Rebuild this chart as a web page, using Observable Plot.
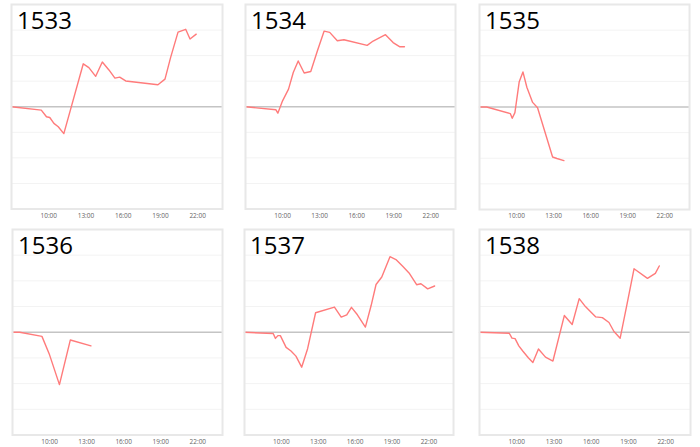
<!DOCTYPE html>
<html><head><meta charset="utf-8">
<script src="https://cdn.jsdelivr.net/npm/d3@7"></script>
<script src="https://cdn.jsdelivr.net/npm/@observablehq/plot@0.6"></script>
<style>
body{margin:0;background:#fff;}
#wrap{position:relative;width:700px;height:447px;overflow:hidden;background:#fff;}
#wrap > div{position:absolute;}
</style></head><body><div id="wrap"></div>
<script>
// ---- data ----
const ids = ["1533", "1534", "1535", "1536", "1537", "1538"];

const times1533 = ["7:00","9:24","9:49","10:05","10:25","10:46","11:13","12:47","13:14","13:47","14:19","14:51","15:20","15:43","16:12","18:48","19:22","19:49","20:25","21:02","21:23","21:53"];
const values1533 = [0,-0.13,-0.39,-0.42,-0.65,-0.78,-1.05,1.68,1.53,1.19,1.75,1.44,1.12,1.16,1.01,0.86,1.08,1.92,2.92,3.03,2.65,2.84];

const times1534 = ["7:00","9:28","9:37","10:00","10:29","10:52","11:16","11:45","12:17","12:49","13:22","13:49","14:26","14:58","16:51","17:20","18:20","18:57","19:28","19:52"];
const values1534 = [0,-0.12,-0.25,0.23,0.69,1.34,1.79,1.32,1.38,2.18,2.96,2.91,2.58,2.62,2.40,2.57,2.82,2.51,2.35,2.35];

const times1535 = ["7:00","7:35","9:30","9:39","9:52","10:13","10:31","10:50","11:18","11:42","12:55","13:16","13:50"];
const values1535 = [0,0,-0.26,-0.44,-0.22,0.99,1.37,0.77,0.18,-0.03,-1.95,-2.01,-2.09];

const times1536 = ["7:00","7:35","9:23","10:00","10:48","11:41","13:21"];
const values1536 = [0,0,-0.16,-0.88,-2.04,-0.30,-0.53];

const times1537 = ["7:00","9:20","9:31","9:43","9:55","10:23","10:47","11:11","11:39","12:08","12:47","14:19","14:52","15:19","15:42","16:11","16:50","17:18","17:42","18:10","18:50","19:19","19:52","20:23","21:00","21:21","21:54","22:28"];
const values1537 = [0,-0.05,-0.24,-0.13,-0.13,-0.59,-0.73,-0.93,-1.36,-0.64,0.76,0.98,0.59,0.68,0.97,0.68,0.20,1.04,1.86,2.15,2.94,2.83,2.57,2.31,1.85,1.89,1.69,1.80];

const times1538 = ["7:00","9:24","9:37","9:52","10:10","10:29","10:57","11:18","11:45","12:19","12:55","13:50","14:28","15:02","15:32","16:21","16:54","17:26","17:50","18:20","18:50","19:27","20:32","21:10","21:29"];
const values1538 = [0,-0.04,-0.23,-0.25,-0.53,-0.73,-1.00,-1.18,-0.65,-0.97,-1.12,0.65,0.30,1.31,1.00,0.60,0.57,0.38,0.03,-0.23,0.97,2.47,2.10,2.29,2.58];

const tickHours = [10, 13, 16, 19, 22];
const gridValues = [-3, -2, -1, 1, 2, 3];
const xDomain = [7, 24];
const yDomain = [-4, 4];

const seriesTimes = [times1533, times1534, times1535, times1536, times1537, times1538];
const seriesValues = [values1533, values1534, values1535, values1536, values1537, values1538];

// ---- layout ----
const layout = [
  {left: 0,   top: 0,   width: 233, height: 223, ml: 11, mr: 11, mt: 4, mb: 14.5},
  {left: 233, top: 0,   width: 233, height: 223, ml: 12, mr: 11, mt: 4, mb: 14.5},
  {left: 466, top: 0,   width: 234, height: 223, ml: 13, mr: 11, mt: 4, mb: 14},
  {left: 0,   top: 224, width: 233, height: 223, ml: 12, mr: 11, mt: 5, mb: 12.5},
  {left: 233, top: 224, width: 233, height: 223, ml: 11, mr: 13, mt: 5, mb: 12.5},
  {left: 466, top: 224, width: 234, height: 223, ml: 13, mr: 10, mt: 5, mb: 12.5}
];

const toHours = s => { const [h, m] = s.split(":").map(Number); return h + m / 60; };
const wrap = document.getElementById("wrap");

ids.forEach((id, i) => {
  const L = layout[i];
  const data = seriesTimes[i].map((t, j) => ({t: toHours(t), v: seriesValues[i][j]}));
  const chart = Plot.plot({
    width: L.width, height: L.height,
    marginLeft: L.ml, marginRight: L.mr, marginTop: L.mt, marginBottom: L.mb,
    style: {fontFamily: "'Open Sans', sans-serif", fontSize: "6.5px", color: "#666", background: "transparent", overflow: "visible"},
    x: {domain: xDomain, ticks: tickHours, tickFormat: h => String(h).padStart(2, "0") + ":00", tickSize: 0, tickPadding: 4, label: null},
    y: {domain: yDomain, axis: null},
    marks: [
      Plot.ruleY(gridValues, {stroke: "#f3f3f3", strokeWidth: 1}),
      Plot.ruleY([0], {stroke: "#c4c4c4", strokeWidth: 1.5}),
      Plot.line(data, {x: "t", y: "v", stroke: "#ff7b7b", strokeWidth: 1.4}),
      Plot.frame({stroke: "#e8e8e8", strokeWidth: 2}),
      Plot.text([id], {frameAnchor: "top-left", dx: 5.5, dy: 7, lineAnchor: "top", fontSize: 24, fill: "#000", text: d => d})
    ]
  });
  const box = document.createElement("div");
  box.style.left = L.left + "px";
  box.style.top = L.top + "px";
  box.appendChild(chart);
  wrap.appendChild(box);
});
</script>
</body></html>
